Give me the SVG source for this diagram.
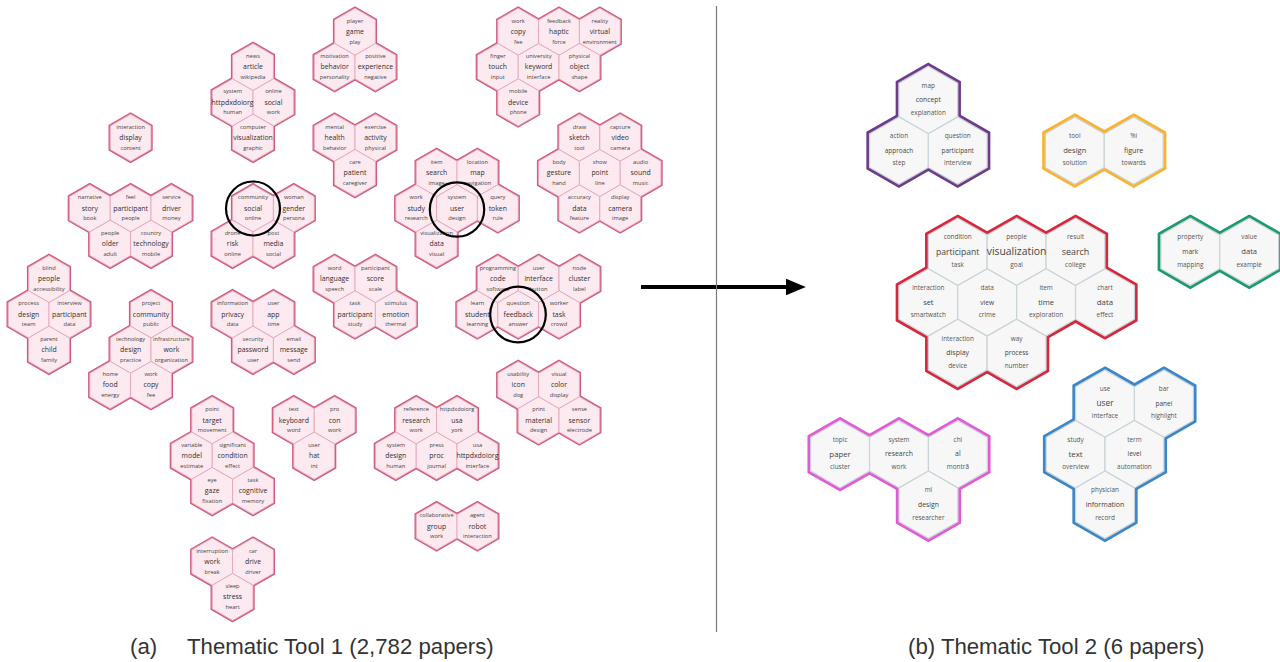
<svg xmlns="http://www.w3.org/2000/svg" xmlns:xlink="http://www.w3.org/1999/xlink" width="1280" height="662" viewBox="0 0 1280 662">
<defs>
<path id="hl" d="M0,-23.55L20.4,-11.78L20.4,11.78L0,23.55L-20.4,11.78L-20.4,-11.78Z"/>
<path id="hr" d="M0,-33.73L29.45,-16.87L29.45,16.87L0,33.73L-29.45,16.87L-29.45,-16.87Z"/>
<marker id="ah" markerWidth="5" markerHeight="4.2" refX="0.3" refY="2.1" orient="auto" markerUnits="strokeWidth"><path d="M0,0L5,2.1L0,4.2Z" fill="#000"/></marker>
<style>
.lo{fill:none;stroke:#cf5b7d;stroke-width:3.4;stroke-linejoin:miter}
.lf{fill:#fceaf0;stroke:#e5a8ba;stroke-width:0.9}
.ls{font-family:"Open Sans","DejaVu Sans",sans-serif;font-size:5.7px;fill:#444;text-anchor:middle}
.lm{font-size:6.9px;fill:#2f2f2f}
.ro{fill:none;stroke-width:6.4;stroke-linejoin:miter}
.rf{fill:#f7f7f7;stroke:#c9d3d8;stroke-width:1.2}
.rs{font-family:"Open Sans","DejaVu Sans",sans-serif;font-size:6.4px;fill:#555;text-anchor:middle}
.rm{fill:#444}
.pu{stroke:#6e3b8b}.or{stroke:#fbb32f}.re{stroke:#d8263b}.gr{stroke:#1b9a6b}.pk{stroke:#e25ad5}.bl{stroke:#3d86c6}
.cap{font-family:"Liberation Sans",Arial,sans-serif;font-size:22.2px;fill:#333}
.ring{fill:none;stroke:#000;stroke-width:2.2}
</style>
</defs>
<rect width="1280" height="662" fill="#fff"/>

<!-- LEFT PANEL -->
<g id="n-article">
<g class="lo"><use href="#hl" x="253" y="67.03"/><use href="#hl" x="232.6" y="102.36"/><use href="#hl" x="273.4" y="102.36"/><use href="#hl" x="253" y="137.69"/></g>
<g class="lf"><use href="#hl" x="253" y="67.03"/><use href="#hl" x="232.6" y="102.36"/><use href="#hl" x="273.4" y="102.36"/><use href="#hl" x="253" y="137.69"/></g>
<g class="ls">
<text x="253" y="58.0">news</text><text class="lm" x="253" y="69.4">article</text><text x="253" y="79.0">wikipedia</text>
<text x="232.6" y="93.4">system</text><text class="lm" x="232.6" y="104.8">httpdxdoiorg</text><text x="232.6" y="114.4">human</text>
<text x="273.4" y="93.4">online</text><text class="lm" x="273.4" y="104.8">social</text><text x="273.4" y="114.4">work</text>
<text x="253" y="128.7">computer</text><text class="lm" x="253" y="140.1">visualization</text><text x="253" y="149.7">graphic</text>
</g></g>

<g id="n-game">
<g class="lo"><use href="#hl" x="355" y="31.7"/><use href="#hl" x="334.6" y="67.03"/><use href="#hl" x="375.4" y="67.03"/></g>
<g class="lf"><use href="#hl" x="355" y="31.7"/><use href="#hl" x="334.6" y="67.03"/><use href="#hl" x="375.4" y="67.03"/></g>
<g class="ls">
<text x="355" y="22.7">player</text><text class="lm" x="355" y="34.1">game</text><text x="355" y="43.7">play</text>
<text x="334.6" y="58.0">motivation</text><text class="lm" x="334.6" y="69.4">behavior</text><text x="334.6" y="79.0">personality</text>
<text x="375.4" y="58.0">positive</text><text class="lm" x="375.4" y="69.4">experience</text><text x="375.4" y="79.0">negative</text>
</g></g>

<g id="n-haptic">
<g class="lo"><use href="#hl" x="518.2" y="31.7"/><use href="#hl" x="559" y="31.7"/><use href="#hl" x="599.8" y="31.7"/><use href="#hl" x="497.8" y="67.03"/><use href="#hl" x="538.6" y="67.03"/><use href="#hl" x="579.4" y="67.03"/><use href="#hl" x="518.2" y="102.36"/></g>
<g class="lf"><use href="#hl" x="518.2" y="31.7"/><use href="#hl" x="559" y="31.7"/><use href="#hl" x="599.8" y="31.7"/><use href="#hl" x="497.8" y="67.03"/><use href="#hl" x="538.6" y="67.03"/><use href="#hl" x="579.4" y="67.03"/><use href="#hl" x="518.2" y="102.36"/></g>
<g class="ls">
<text x="518.2" y="22.7">work</text><text class="lm" x="518.2" y="34.1">copy</text><text x="518.2" y="43.7">fee</text>
<text x="559" y="22.7">feedback</text><text class="lm" x="559" y="34.1">haptic</text><text x="559" y="43.7">force</text>
<text x="599.8" y="22.7">reality</text><text class="lm" x="599.8" y="34.1">virtual</text><text x="599.8" y="43.7">environment</text>
<text x="497.8" y="58.0">finger</text><text class="lm" x="497.8" y="69.4">touch</text><text x="497.8" y="79.0">input</text>
<text x="538.6" y="58.0">university</text><text class="lm" x="538.6" y="69.4">keyword</text><text x="538.6" y="79.0">interface</text>
<text x="579.4" y="58.0">physical</text><text class="lm" x="579.4" y="69.4">object</text><text x="579.4" y="79.0">shape</text>
<text x="518.2" y="93.4">mobile</text><text class="lm" x="518.2" y="104.8">device</text><text x="518.2" y="114.4">phone</text>
</g></g>

<g id="n-display">
<g class="lo"><use href="#hl" x="130.6" y="137.69"/></g>
<g class="lf"><use href="#hl" x="130.6" y="137.69"/></g>
<g class="ls">
<text x="130.6" y="128.7">interaction</text><text class="lm" x="130.6" y="140.1">display</text><text x="130.6" y="149.7">content</text>
</g></g>

<g id="n-health">
<g class="lo"><use href="#hl" x="334.6" y="137.69"/><use href="#hl" x="375.4" y="137.69"/><use href="#hl" x="355" y="173.02"/></g>
<g class="lf"><use href="#hl" x="334.6" y="137.69"/><use href="#hl" x="375.4" y="137.69"/><use href="#hl" x="355" y="173.02"/></g>
<g class="ls">
<text x="334.6" y="128.7">mental</text><text class="lm" x="334.6" y="140.1">health</text><text x="334.6" y="149.7">behavior</text>
<text x="375.4" y="128.7">exercise</text><text class="lm" x="375.4" y="140.1">activity</text><text x="375.4" y="149.7">physical</text>
<text x="355" y="164.0">care</text><text class="lm" x="355" y="175.4">patient</text><text x="355" y="185.0">caregiver</text>
</g></g>

<g id="n-sketch">
<g class="lo"><use href="#hl" x="579.4" y="137.69"/><use href="#hl" x="620.2" y="137.69"/><use href="#hl" x="559" y="173.02"/><use href="#hl" x="599.8" y="173.02"/><use href="#hl" x="640.6" y="173.02"/><use href="#hl" x="579.4" y="208.35"/><use href="#hl" x="620.2" y="208.35"/></g>
<g class="lf"><use href="#hl" x="579.4" y="137.69"/><use href="#hl" x="620.2" y="137.69"/><use href="#hl" x="559" y="173.02"/><use href="#hl" x="599.8" y="173.02"/><use href="#hl" x="640.6" y="173.02"/><use href="#hl" x="579.4" y="208.35"/><use href="#hl" x="620.2" y="208.35"/></g>
<g class="ls">
<text x="579.4" y="128.7">draw</text><text class="lm" x="579.4" y="140.1">sketch</text><text x="579.4" y="149.7">tool</text>
<text x="620.2" y="128.7">capture</text><text class="lm" x="620.2" y="140.1">video</text><text x="620.2" y="149.7">camera</text>
<text x="559" y="164.0">body</text><text class="lm" x="559" y="175.4">gesture</text><text x="559" y="185.0">hand</text>
<text x="599.8" y="164.0">show</text><text class="lm" x="599.8" y="175.4">point</text><text x="599.8" y="185.0">line</text>
<text x="640.6" y="164.0">audio</text><text class="lm" x="640.6" y="175.4">sound</text><text x="640.6" y="185.0">music</text>
<text x="579.4" y="199.4">accuracy</text><text class="lm" x="579.4" y="210.8">data</text><text x="579.4" y="220.4">feature</text>
<text x="620.2" y="199.4">display</text><text class="lm" x="620.2" y="210.8">camera</text><text x="620.2" y="220.4">image</text>
</g></g>

<g id="n-story">
<g class="lo"><use href="#hl" x="89.8" y="208.35"/><use href="#hl" x="130.6" y="208.35"/><use href="#hl" x="171.4" y="208.35"/><use href="#hl" x="110.2" y="243.68"/><use href="#hl" x="151" y="243.68"/></g>
<g class="lf"><use href="#hl" x="89.8" y="208.35"/><use href="#hl" x="130.6" y="208.35"/><use href="#hl" x="171.4" y="208.35"/><use href="#hl" x="110.2" y="243.68"/><use href="#hl" x="151" y="243.68"/></g>
<g class="ls">
<text x="89.8" y="199.4">narrative</text><text class="lm" x="89.8" y="210.8">story</text><text x="89.8" y="220.4">book</text>
<text x="130.6" y="199.4">feel</text><text class="lm" x="130.6" y="210.8">participant</text><text x="130.6" y="220.4">people</text>
<text x="171.4" y="199.4">service</text><text class="lm" x="171.4" y="210.8">driver</text><text x="171.4" y="220.4">money</text>
<text x="110.2" y="234.7">people</text><text class="lm" x="110.2" y="246.1">older</text><text x="110.2" y="255.7">adult</text>
<text x="151" y="234.7">country</text><text class="lm" x="151" y="246.1">technology</text><text x="151" y="255.7">mobile</text>
</g></g>

<g id="n-social">
<g class="lo"><use href="#hl" x="253" y="208.35"/><use href="#hl" x="293.8" y="208.35"/><use href="#hl" x="232.6" y="243.68"/><use href="#hl" x="273.4" y="243.68"/></g>
<g class="lf"><use href="#hl" x="253" y="208.35"/><use href="#hl" x="293.8" y="208.35"/><use href="#hl" x="232.6" y="243.68"/><use href="#hl" x="273.4" y="243.68"/></g>
<g class="ls">
<text x="253" y="199.4">community</text><text class="lm" x="253" y="210.8">social</text><text x="253" y="220.4">online</text>
<text x="293.8" y="199.4">woman</text><text class="lm" x="293.8" y="210.8">gender</text><text x="293.8" y="220.4">persona</text>
<text x="232.6" y="234.7">drone</text><text class="lm" x="232.6" y="246.1">risk</text><text x="232.6" y="255.7">online</text>
<text x="273.4" y="234.7">post</text><text class="lm" x="273.4" y="246.1">media</text><text x="273.4" y="255.7">social</text>
</g></g>

<g id="n-user">
<g class="lo"><use href="#hl" x="436.6" y="173.02"/><use href="#hl" x="477.4" y="173.02"/><use href="#hl" x="416.2" y="208.35"/><use href="#hl" x="457" y="208.35"/><use href="#hl" x="497.8" y="208.35"/><use href="#hl" x="436.6" y="243.68"/></g>
<g class="lf"><use href="#hl" x="436.6" y="173.02"/><use href="#hl" x="477.4" y="173.02"/><use href="#hl" x="416.2" y="208.35"/><use href="#hl" x="457" y="208.35"/><use href="#hl" x="497.8" y="208.35"/><use href="#hl" x="436.6" y="243.68"/></g>
<g class="ls">
<text x="436.6" y="164.0">item</text><text class="lm" x="436.6" y="175.4">search</text><text x="436.6" y="185.0">image</text>
<text x="477.4" y="164.0">location</text><text class="lm" x="477.4" y="175.4">map</text><text x="477.4" y="185.0">navigation</text>
<text x="416.2" y="199.4">work</text><text class="lm" x="416.2" y="210.8">study</text><text x="416.2" y="220.4">research</text>
<text x="457" y="199.4">system</text><text class="lm" x="457" y="210.8">user</text><text x="457" y="220.4">design</text>
<text x="497.8" y="199.4">query</text><text class="lm" x="497.8" y="210.8">token</text><text x="497.8" y="220.4">rule</text>
<text x="436.6" y="234.7">visualization</text><text class="lm" x="436.6" y="246.1">data</text><text x="436.6" y="255.7">visual</text>
</g></g>

<g id="n-people">
<g class="lo"><use href="#hl" x="49" y="279.01"/><use href="#hl" x="28.6" y="314.34"/><use href="#hl" x="69.4" y="314.34"/><use href="#hl" x="49" y="349.67"/></g>
<g class="lf"><use href="#hl" x="49" y="279.01"/><use href="#hl" x="28.6" y="314.34"/><use href="#hl" x="69.4" y="314.34"/><use href="#hl" x="49" y="349.67"/></g>
<g class="ls">
<text x="49" y="270.0">blind</text><text class="lm" x="49" y="281.4">people</text><text x="49" y="291.0">accessibility</text>
<text x="28.6" y="305.3">process</text><text class="lm" x="28.6" y="316.7">design</text><text x="28.6" y="326.3">team</text>
<text x="69.4" y="305.3">interview</text><text class="lm" x="69.4" y="316.7">participant</text><text x="69.4" y="326.3">data</text>
<text x="49" y="340.7">parent</text><text class="lm" x="49" y="352.1">child</text><text x="49" y="361.7">family</text>
</g></g>

<g id="n-language">
<g class="lo"><use href="#hl" x="334.6" y="279.01"/><use href="#hl" x="375.4" y="279.01"/><use href="#hl" x="355" y="314.34"/><use href="#hl" x="395.8" y="314.34"/></g>
<g class="lf"><use href="#hl" x="334.6" y="279.01"/><use href="#hl" x="375.4" y="279.01"/><use href="#hl" x="355" y="314.34"/><use href="#hl" x="395.8" y="314.34"/></g>
<g class="ls">
<text x="334.6" y="270.0">word</text><text class="lm" x="334.6" y="281.4">language</text><text x="334.6" y="291.0">speech</text>
<text x="375.4" y="270.0">participant</text><text class="lm" x="375.4" y="281.4">score</text><text x="375.4" y="291.0">scale</text>
<text x="355" y="305.3">task</text><text class="lm" x="355" y="316.7">participant</text><text x="355" y="326.3">study</text>
<text x="395.8" y="305.3">stimulus</text><text class="lm" x="395.8" y="316.7">emotion</text><text x="395.8" y="326.3">thermal</text>
</g></g>

<g id="n-code">
<g class="lo"><use href="#hl" x="497.8" y="279.01"/><use href="#hl" x="538.6" y="279.01"/><use href="#hl" x="579.4" y="279.01"/><use href="#hl" x="477.4" y="314.34"/><use href="#hl" x="518.2" y="314.34"/><use href="#hl" x="559" y="314.34"/></g>
<g class="lf"><use href="#hl" x="497.8" y="279.01"/><use href="#hl" x="538.6" y="279.01"/><use href="#hl" x="579.4" y="279.01"/><use href="#hl" x="477.4" y="314.34"/><use href="#hl" x="518.2" y="314.34"/><use href="#hl" x="559" y="314.34"/></g>
<g class="ls">
<text x="497.8" y="270.0">programming</text><text class="lm" x="497.8" y="281.4">code</text><text x="497.8" y="291.0">software</text>
<text x="538.6" y="270.0">user</text><text class="lm" x="538.6" y="281.4">interface</text><text x="538.6" y="291.0">button</text>
<text x="579.4" y="270.0">node</text><text class="lm" x="579.4" y="281.4">cluster</text><text x="579.4" y="291.0">label</text>
<text x="477.4" y="305.3">learn</text><text class="lm" x="477.4" y="316.7">student</text><text x="477.4" y="326.3">learning</text>
<text x="518.2" y="305.3">question</text><text class="lm" x="518.2" y="316.7">feedback</text><text x="518.2" y="326.3">answer</text>
<text x="559" y="305.3">worker</text><text class="lm" x="559" y="316.7">task</text><text x="559" y="326.3">crowd</text>
</g></g>

<g id="n-community">
<g class="lo"><use href="#hl" x="151" y="314.34"/><use href="#hl" x="130.6" y="349.67"/><use href="#hl" x="171.4" y="349.67"/><use href="#hl" x="110.2" y="385"/><use href="#hl" x="151" y="385"/></g>
<g class="lf"><use href="#hl" x="151" y="314.34"/><use href="#hl" x="130.6" y="349.67"/><use href="#hl" x="171.4" y="349.67"/><use href="#hl" x="110.2" y="385"/><use href="#hl" x="151" y="385"/></g>
<g class="ls">
<text x="151" y="305.3">project</text><text class="lm" x="151" y="316.7">community</text><text x="151" y="326.3">public</text>
<text x="130.6" y="340.7">technology</text><text class="lm" x="130.6" y="352.1">design</text><text x="130.6" y="361.7">practice</text>
<text x="171.4" y="340.7">infrastructure</text><text class="lm" x="171.4" y="352.1">work</text><text x="171.4" y="361.7">organization</text>
<text x="110.2" y="376.0">home</text><text class="lm" x="110.2" y="387.4">food</text><text x="110.2" y="397.0">energy</text>
<text x="151" y="376.0">work</text><text class="lm" x="151" y="387.4">copy</text><text x="151" y="397.0">fee</text>
</g></g>

<g id="n-privacy">
<g class="lo"><use href="#hl" x="232.6" y="314.34"/><use href="#hl" x="273.4" y="314.34"/><use href="#hl" x="253" y="349.67"/><use href="#hl" x="293.8" y="349.67"/></g>
<g class="lf"><use href="#hl" x="232.6" y="314.34"/><use href="#hl" x="273.4" y="314.34"/><use href="#hl" x="253" y="349.67"/><use href="#hl" x="293.8" y="349.67"/></g>
<g class="ls">
<text x="232.6" y="305.3">information</text><text class="lm" x="232.6" y="316.7">privacy</text><text x="232.6" y="326.3">data</text>
<text x="273.4" y="305.3">user</text><text class="lm" x="273.4" y="316.7">app</text><text x="273.4" y="326.3">time</text>
<text x="253" y="340.7">security</text><text class="lm" x="253" y="352.1">password</text><text x="253" y="361.7">user</text>
<text x="293.8" y="340.7">email</text><text class="lm" x="293.8" y="352.1">message</text><text x="293.8" y="361.7">send</text>
</g></g>

<g id="n-icon">
<g class="lo"><use href="#hl" x="518.2" y="385"/><use href="#hl" x="559" y="385"/><use href="#hl" x="538.6" y="420.33"/><use href="#hl" x="579.4" y="420.33"/></g>
<g class="lf"><use href="#hl" x="518.2" y="385"/><use href="#hl" x="559" y="385"/><use href="#hl" x="538.6" y="420.33"/><use href="#hl" x="579.4" y="420.33"/></g>
<g class="ls">
<text x="518.2" y="376.0">usability</text><text class="lm" x="518.2" y="387.4">icon</text><text x="518.2" y="397.0">dog</text>
<text x="559" y="376.0">visual</text><text class="lm" x="559" y="387.4">color</text><text x="559" y="397.0">display</text>
<text x="538.6" y="411.3">print</text><text class="lm" x="538.6" y="422.7">material</text><text x="538.6" y="432.3">design</text>
<text x="579.4" y="411.3">sense</text><text class="lm" x="579.4" y="422.7">sensor</text><text x="579.4" y="432.3">electrode</text>
</g></g>

<g id="n-target">
<g class="lo"><use href="#hl" x="212.2" y="420.33"/><use href="#hl" x="191.8" y="455.66"/><use href="#hl" x="232.6" y="455.66"/><use href="#hl" x="212.2" y="490.99"/><use href="#hl" x="253" y="490.99"/></g>
<g class="lf"><use href="#hl" x="212.2" y="420.33"/><use href="#hl" x="191.8" y="455.66"/><use href="#hl" x="232.6" y="455.66"/><use href="#hl" x="212.2" y="490.99"/><use href="#hl" x="253" y="490.99"/></g>
<g class="ls">
<text x="212.2" y="411.3">point</text><text class="lm" x="212.2" y="422.7">target</text><text x="212.2" y="432.3">movement</text>
<text x="191.8" y="446.7">variable</text><text class="lm" x="191.8" y="458.1">model</text><text x="191.8" y="467.7">estimate</text>
<text x="232.6" y="446.7">significant</text><text class="lm" x="232.6" y="458.1">condition</text><text x="232.6" y="467.7">effect</text>
<text x="212.2" y="482.0">eye</text><text class="lm" x="212.2" y="493.4">gaze</text><text x="212.2" y="503.0">fixation</text>
<text x="253" y="482.0">task</text><text class="lm" x="253" y="493.4">cognitive</text><text x="253" y="503.0">memory</text>
</g></g>

<g id="n-keyboard">
<g class="lo"><use href="#hl" x="293.8" y="420.33"/><use href="#hl" x="334.6" y="420.33"/><use href="#hl" x="314.2" y="455.66"/></g>
<g class="lf"><use href="#hl" x="293.8" y="420.33"/><use href="#hl" x="334.6" y="420.33"/><use href="#hl" x="314.2" y="455.66"/></g>
<g class="ls">
<text x="293.8" y="411.3">text</text><text class="lm" x="293.8" y="422.7">keyboard</text><text x="293.8" y="432.3">word</text>
<text x="334.6" y="411.3">pro</text><text class="lm" x="334.6" y="422.7">con</text><text x="334.6" y="432.3">work</text>
<text x="314.2" y="446.7">user</text><text class="lm" x="314.2" y="458.1">hat</text><text x="314.2" y="467.7">int</text>
</g></g>

<g id="n-research">
<g class="lo"><use href="#hl" x="416.2" y="420.33"/><use href="#hl" x="457" y="420.33"/><use href="#hl" x="395.8" y="455.66"/><use href="#hl" x="436.6" y="455.66"/><use href="#hl" x="477.4" y="455.66"/></g>
<g class="lf"><use href="#hl" x="416.2" y="420.33"/><use href="#hl" x="457" y="420.33"/><use href="#hl" x="395.8" y="455.66"/><use href="#hl" x="436.6" y="455.66"/><use href="#hl" x="477.4" y="455.66"/></g>
<g class="ls">
<text x="416.2" y="411.3">reference</text><text class="lm" x="416.2" y="422.7">research</text><text x="416.2" y="432.3">work</text>
<text x="457" y="411.3">httpdxdoiorg</text><text class="lm" x="457" y="422.7">usa</text><text x="457" y="432.3">york</text>
<text x="395.8" y="446.7">system</text><text class="lm" x="395.8" y="458.1">design</text><text x="395.8" y="467.7">human</text>
<text x="436.6" y="446.7">press</text><text class="lm" x="436.6" y="458.1">proc</text><text x="436.6" y="467.7">journal</text>
<text x="477.4" y="446.7">usa</text><text class="lm" x="477.4" y="458.1">httpdxdoiorg</text><text x="477.4" y="467.7">interface</text>
</g></g>

<g id="n-group">
<g class="lo"><use href="#hl" x="436.6" y="526.32"/><use href="#hl" x="477.4" y="526.32"/></g>
<g class="lf"><use href="#hl" x="436.6" y="526.32"/><use href="#hl" x="477.4" y="526.32"/></g>
<g class="ls">
<text x="436.6" y="517.3">collaborative</text><text class="lm" x="436.6" y="528.7">group</text><text x="436.6" y="538.3">work</text>
<text x="477.4" y="517.3">agent</text><text class="lm" x="477.4" y="528.7">robot</text><text x="477.4" y="538.3">interaction</text>
</g></g>

<g id="n-drive">
<g class="lo"><use href="#hl" x="212.2" y="561.65"/><use href="#hl" x="253" y="561.65"/><use href="#hl" x="232.6" y="596.98"/></g>
<g class="lf"><use href="#hl" x="212.2" y="561.65"/><use href="#hl" x="253" y="561.65"/><use href="#hl" x="232.6" y="596.98"/></g>
<g class="ls">
<text x="212.2" y="552.7">interruption</text><text class="lm" x="212.2" y="564.1">work</text><text x="212.2" y="573.7">break</text>
<text x="253" y="552.7">car</text><text class="lm" x="253" y="564.1">drive</text><text x="253" y="573.7">driver</text>
<text x="232.6" y="588.0">sleep</text><text class="lm" x="232.6" y="599.4">stress</text><text x="232.6" y="609.0">heart</text>
</g></g>

<g id="highlights">
<circle class="ring" cx="253" cy="208.5" r="27"/>
<circle class="ring" cx="457" cy="209.5" r="27.2"/>
<circle class="ring" cx="518" cy="314.5" r="27.8"/>
</g>

<!-- RIGHT PANEL -->
<g id="n-purple">
<g class="ro pu"><use href="#hr" x="928.3" y="100"/><use href="#hr" x="899" y="150.6"/><use href="#hr" x="957.7" y="150.6"/></g>
<g class="rf"><use href="#hr" x="928.3" y="100"/><use href="#hr" x="899" y="150.6"/><use href="#hr" x="957.7" y="150.6"/></g>
<g class="rs">
<text x="928.3" y="87.6">map</text><text class="rm" x="928.3" y="102.2" font-size="6.8">concept</text><text x="928.3" y="114.8">explanation</text>
<text x="899" y="138.2">action</text><text class="rm" x="899" y="152.6">approach</text><text x="899" y="165.4">step</text>
<text x="957.7" y="138.2">question</text><text class="rm" x="957.7" y="152.6">participant</text><text x="957.7" y="165.4">interview</text>
</g></g>

<g id="n-orange">
<g class="ro or"><use href="#hr" x="1074.8" y="150.6"/><use href="#hr" x="1133.7" y="150.6"/></g>
<g class="rf"><use href="#hr" x="1074.8" y="150.6"/><use href="#hr" x="1133.7" y="150.6"/></g>
<g class="rs">
<text x="1074.8" y="138.2">tool</text><text class="rm" x="1074.8" y="153" font-size="7.6">design</text><text x="1074.8" y="165.4">solution</text>
<text x="1133.7" y="138.2">%i</text><text class="rm" x="1133.7" y="152.8" font-size="7.1">figure</text><text x="1133.7" y="165.4">towards</text>
</g></g>

<g id="n-red">
<g class="ro re"><use href="#hr" x="957.7" y="251.8"/><use href="#hr" x="1016.6" y="251.8"/><use href="#hr" x="1075.5" y="251.8"/><use href="#hr" x="928.3" y="302.4"/><use href="#hr" x="987.2" y="302.4"/><use href="#hr" x="1046.1" y="302.4"/><use href="#hr" x="1105" y="302.4"/><use href="#hr" x="957.7" y="353"/><use href="#hr" x="1016.6" y="353"/></g>
<g class="rf"><use href="#hr" x="957.7" y="251.8"/><use href="#hr" x="1016.6" y="251.8"/><use href="#hr" x="1075.5" y="251.8"/><use href="#hr" x="928.3" y="302.4"/><use href="#hr" x="987.2" y="302.4"/><use href="#hr" x="1046.1" y="302.4"/><use href="#hr" x="1105" y="302.4"/><use href="#hr" x="957.7" y="353"/><use href="#hr" x="1016.6" y="353"/></g>
<g class="rs">
<text x="957.7" y="239.4">condition</text><text class="rm" x="957.7" y="254.6" font-size="8.6">participant</text><text x="957.7" y="266.6">task</text>
<text x="1016.6" y="239.4">people</text><text class="rm" x="1016.6" y="255.2" font-size="10.4">visualization</text><text x="1016.6" y="266.6">goal</text>
<text x="1075.5" y="239.4">result</text><text class="rm" x="1075.5" y="254.7" font-size="8.9">search</text><text x="1075.5" y="266.6">college</text>
<text x="928.3" y="290">interaction</text><text class="rm" x="928.3" y="304.8" font-size="7.4">set</text><text x="928.3" y="317.2">smartwatch</text>
<text x="987.2" y="290">data</text><text class="rm" x="987.2" y="304.5" font-size="6.6">view</text><text x="987.2" y="317.2">crime</text>
<text x="1046.1" y="290">item</text><text class="rm" x="1046.1" y="304.8" font-size="7.6">time</text><text x="1046.1" y="317.2">exploration</text>
<text x="1105" y="290">chart</text><text class="rm" x="1105" y="304.9" font-size="7.9">data</text><text x="1105" y="317.2">effect</text>
<text x="957.7" y="340.6">interaction</text><text class="rm" x="957.7" y="355.2" font-size="7">display</text><text x="957.7" y="367.8">device</text>
<text x="1016.6" y="340.6">way</text><text class="rm" x="1016.6" y="355.1" font-size="6.6">process</text><text x="1016.6" y="367.8">number</text>
</g></g>

<g id="n-green">
<g class="ro gr"><use href="#hr" x="1190.3" y="251.8"/><use href="#hr" x="1249.2" y="251.8"/></g>
<g class="rf"><use href="#hr" x="1190.3" y="251.8"/><use href="#hr" x="1249.2" y="251.8"/></g>
<g class="rs">
<text x="1190.3" y="239.4">property</text><text class="rm" x="1190.3" y="253.9" font-size="6.6">mark</text><text x="1190.3" y="266.6">mapping</text>
<text x="1249.2" y="239.4">value</text><text class="rm" x="1249.2" y="254.2" font-size="7.6">data</text><text x="1249.2" y="266.6">example</text>
</g></g>

<g id="n-pink">
<g class="ro pk"><use href="#hr" x="840.1" y="454.2"/><use href="#hr" x="899" y="454.2"/><use href="#hr" x="957.9" y="454.2"/><use href="#hr" x="928.45" y="504.8"/></g>
<g class="rf"><use href="#hr" x="840.1" y="454.2"/><use href="#hr" x="899" y="454.2"/><use href="#hr" x="957.9" y="454.2"/><use href="#hr" x="928.45" y="504.8"/></g>
<g class="rs">
<text x="840.1" y="441.8">topic</text><text class="rm" x="840.1" y="456.6" font-size="7.8">paper</text><text x="840.1" y="469">cluster</text>
<text x="899" y="441.8">system</text><text class="rm" x="899" y="456.4" font-size="6.9">research</text><text x="899" y="469">work</text>
<text x="957.9" y="441.8">chi</text><text class="rm" x="957.9" y="456.4" font-size="6.9">al</text><text x="957.9" y="469">montrã</text>
<text x="928.45" y="492.4">ml</text><text class="rm" x="928.45" y="507" font-size="6.8">design</text><text x="928.45" y="519.6">researcher</text>
</g></g>

<g id="n-blue">
<g class="ro bl"><use href="#hr" x="1105" y="403.6"/><use href="#hr" x="1163.9" y="403.6"/><use href="#hr" x="1075.55" y="454.2"/><use href="#hr" x="1134.45" y="454.2"/><use href="#hr" x="1105" y="504.8"/></g>
<g class="rf"><use href="#hr" x="1105" y="403.6"/><use href="#hr" x="1163.9" y="403.6"/><use href="#hr" x="1075.55" y="454.2"/><use href="#hr" x="1134.45" y="454.2"/><use href="#hr" x="1105" y="504.8"/></g>
<g class="rs">
<text x="1105" y="391.2">use</text><text class="rm" x="1105" y="406.2" font-size="8.3">user</text><text x="1105" y="418.4">interface</text>
<text x="1163.9" y="391.2">bar</text><text class="rm" x="1163.9" y="405.6" font-size="6.5">panel</text><text x="1163.9" y="418.4">highlight</text>
<text x="1075.55" y="441.8">study</text><text class="rm" x="1075.55" y="456.7" font-size="7.9">text</text><text x="1075.55" y="469">overview</text>
<text x="1134.45" y="441.8">term</text><text class="rm" x="1134.45" y="456.2" font-size="6.5">level</text><text x="1134.45" y="469">automation</text>
<text x="1105" y="492.4">physician</text><text class="rm" x="1105" y="507" font-size="7">information</text><text x="1105" y="519.6">record</text>
</g></g>

<g id="connectors">
<line x1="641" y1="287" x2="787" y2="287" stroke="#000" stroke-width="4" marker-end="url(#ah)"/>
</g>

<line id="divider" x1="716.5" y1="6" x2="716.5" y2="632" stroke="#7a7a7a" stroke-width="1.2"/>

<g id="captions" class="cap">
<text x="130" y="654">(a)</text>
<text x="187" y="654">Thematic Tool 1 (2,782 papers)</text>
<text x="908" y="654">(b) Thematic Tool 2 (6 papers)</text>
</g>
</svg>
